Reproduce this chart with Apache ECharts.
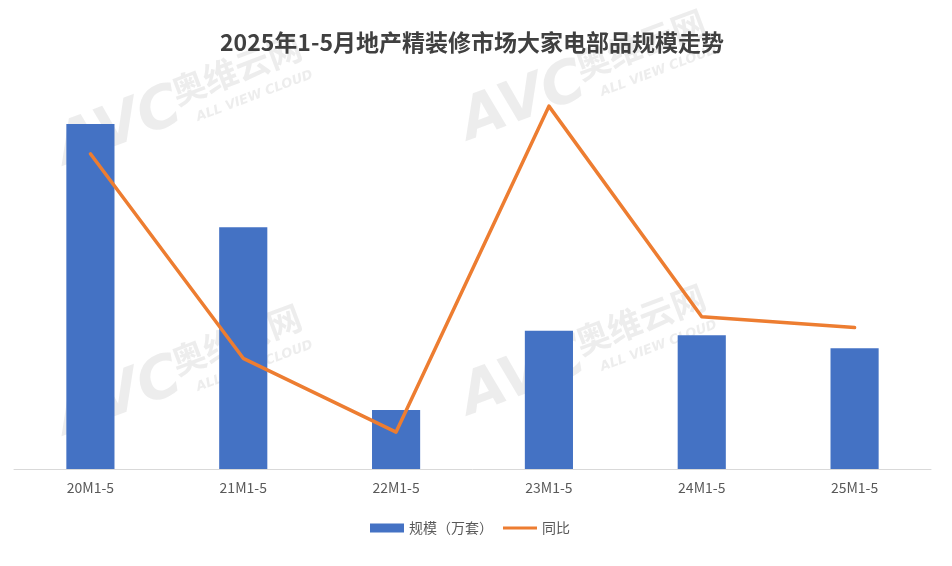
<!DOCTYPE html>
<html>
<head>
<meta charset="utf-8">
<script src="https://cdn.jsdelivr.net/npm/echarts@6/dist/echarts.min.js"></script>
<style>html,body{margin:0;padding:0;background:#fff;}#c{width:952px;height:566px;}</style>
</head>
<body>
<div id="c"></div>
<script>
const categories = ['20M1-5', '21M1-5', '22M1-5', '23M1-5', '24M1-5', '25M1-5'];
const scaleValues = [374, 262, 64, 150, 145, 131];
const yoyValues = [105, -28, -76, 136, -1, -8];
const titleText = '2025年1-5月地产精装修市场大家电部品规模走势';
const seriesNames = ['规模（万套）', '同比'];

const wmColor = 'rgba(190,190,190,0.28)';
function watermark(x, y) {
  return {
    type: 'group', x: x, y: y, rotation: 0.36, silent: true, z: 100,
    children: [
      { type: 'text', x: 0, y: 4, style: { text: 'AVC', font: 'italic 900 58px "DejaVu Sans"', fill: wmColor } },
      { type: 'text', x: 126, y: 2, style: { text: '奥维云网', font: 'bold 34px "Noto Sans CJK SC"', fill: wmColor } },
      { type: 'text', x: 140, y: 44, style: { text: 'ALL VIEW CLOUD', font: 'bold italic 13px "DejaVu Sans"', fill: wmColor } }
    ]
  };
}

const chart = echarts.init(document.getElementById('c'), null, { renderer: 'canvas' });
chart.setOption({
  backgroundColor: '#ffffff',
  animation: false,
  title: {
    text: titleText, left: 467, textAlign: 'center', top: 26,
    textStyle: { fontFamily: '"Noto Sans CJK SC"', fontSize: 23, fontWeight: 'bold', color: '#404040' }
  },
  legend: {
    bottom: 26, left: 365, itemGap: 10,
    textStyle: { fontFamily: '"Noto Sans CJK SC"', fontSize: 14, color: '#595959' },
    data: [
      { name: seriesNames[0], icon: 'rect' },
      { name: seriesNames[1], icon: 'path://M0,0 H36 V3 H0 Z' }
    ],
    itemWidth: 34, itemHeight: 9
  },
  grid: { left: 14, right: 21, top: 100, bottom: 97, containLabel: false },
  xAxis: {
    type: 'category', data: categories,
    axisLine: { lineStyle: { color: '#d9d9d9', width: 1 } },
    axisTick: { show: false },
    axisLabel: { fontFamily: '"Noto Sans CJK SC"', fontSize: 14, color: '#595959', margin: 12 }
  },
  yAxis: [
    { type: 'value', min: 0, max: 400, show: false, splitLine: { show: false } },
    { type: 'value', min: -100, max: 140, show: false, splitLine: { show: false } }
  ],
  series: [
    {
      name: seriesNames[0], type: 'bar', data: scaleValues, barWidth: '31.5%',
      itemStyle: { color: '#4472C4' }, yAxisIndex: 0
    },
    {
      name: seriesNames[1], type: 'line', data: yoyValues, yAxisIndex: 1,
      symbol: 'none', lineStyle: { color: '#ED7D31', width: 3.5, cap: 'round', join: 'round' },
      itemStyle: { color: '#ED7D31' }
    }
  ],
  graphic: [
    watermark(48, 120),
    watermark(452, 95),
    watermark(48, 390),
    watermark(452, 370)
  ]
});
</script>
</body>
</html>
